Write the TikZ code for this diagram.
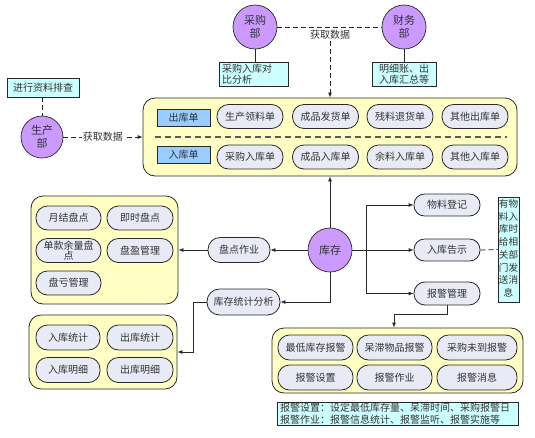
\documentclass[tikz,border=0pt]{standalone}
\usepackage{fontspec}
\setmainfont{Noto Sans CJK SC}
\usetikzlibrary{arrows.meta}
\definecolor{purp}{RGB}{204,153,255}
\definecolor{yel}{RGB}{255,255,196}
\definecolor{pillc}{RGB}{232,234,246}
\definecolor{cyanc}{RGB}{204,255,255}
\definecolor{bluec}{RGB}{153,204,255}
\definecolor{linec}{RGB}{40,40,40}
\begin{document}
\begin{tikzpicture}[x=1pt,y=-1pt,
  grp/.style={draw=linec, fill=yel, rounded corners=12pt, line width=0.8pt, inner sep=0pt},
  pill/.style={draw=linec, fill=pillc, rounded corners=11.5pt, minimum height=24pt, minimum width=66pt, inner sep=1pt, font=\fontsize{10}{11}\selectfont, text=black!80, line width=0.8pt, align=center},
  circ/.style={circle, draw=linec, fill=purp, minimum size=44pt, inner sep=0pt, align=center, font=\fontsize{11}{13}\selectfont, text=black!80, line width=0.7pt},
  note/.style={draw=linec, fill=cyanc, inner xsep=3pt, inner ysep=0pt, font=\fontsize{10}{11.5}\selectfont, text=black!80, line width=0.7pt},
  tag/.style={draw=linec, fill=bluec, minimum width=53pt, minimum height=17pt, inner sep=0pt, font=\fontsize{10}{11}\selectfont, text=black!80, line width=0.7pt},
  conn/.style={draw=linec, line width=0.8pt},
  arr/.style={conn, -{Latex[length=5pt,width=4pt]}},
  dconn/.style={conn, dash pattern=on 5pt off 3pt},
  lbl/.style={fill=white, inner sep=1pt, font=\fontsize{10}{11}\selectfont, text=black!80}
]
\useasboundingbox (0,0) rectangle (535,437);

% top departments
\node[circ] (cg) at (255,27) {采购\\部};
\node[circ] (cw) at (404,27) {财务\\部};
\node[note, text width=63pt, align=left, minimum height=24pt] (cgn) at (253.5,74) {采购入库对\\比分析};
\node[note, text width=58pt, align=center, minimum height=24pt] (cwn) at (404,74) {明细账、出\\入库汇总等};
\draw[conn] (cg.south) -- (cg.south |- cgn.north);
\draw[conn] (cw.south) -- (cw.south |- cwn.north);
\draw[dconn] (cg.east) -- (cw.west);
\node[lbl] (l1) at (330,35) {获取数据};

% production
\node[note, minimum width=72pt, minimum height=19pt, inner ysep=1pt] (scn) at (43,87.5) {进行资料排查};
\node[circ, minimum size=42pt] (sc) at (42,137) {生产\\部};
\draw[dconn] (scn.south -| sc.north) -- (sc.north);

% top group
\node[grp, minimum width=374pt, minimum height=78pt] (top) at (330,137) {};
\node[tag] (ck) at (183.5,117.5) {出库单};
\node[tag] (rkd) at (183.5,155) {入库单};
\node[pill] (p1) at (250,116.5) {生产领料单};
\node[pill] (p2) at (325.5,116.5) {成品发货单};
\node[pill] (p3) at (400,116.5) {残料退货单};
\node[pill] (p4) at (475,116.5) {其他出库单};
\node[pill] (q1) at (250,157) {采购入库单};
\node[pill] (q2) at (325.5,157) {成品入库单};
\node[pill] (q3) at (400,157) {余料入库单};
\node[pill] (q4) at (475,157) {其他入库单};
\coordinate (dl) at (155,137);
\coordinate (dr) at (507,137);
\draw[draw=black!65, line width=1.4pt, dash pattern=on 6pt off 4pt] (dl) -- (dr);

\draw[arr, dash pattern=on 5pt off 3pt] (l1.south) -- (top.north);
\draw[arr, dash pattern=on 5pt off 3pt] (sc.east) -- node[lbl] {获取数据} (top.west);

% center
\node[circ] (kc) at (330,250) {库存};
\draw[arr] (kc.north) -- (top.south);

% right side
\node[pill, minimum height=22pt, minimum width=66pt, rounded corners=10.5pt] (wl) at (447,205) {物料登记};
\node[pill, minimum height=22pt, minimum width=66pt, rounded corners=10.5pt] (rg) at (447,250) {入库告示};
\node[pill, minimum height=23pt, minimum width=66pt, rounded corners=11pt] (bj) at (447,293.5) {报警管理};
\node[note, minimum width=21pt, inner xsep=0pt, minimum height=105pt] (msg) at (508.5,249.5) {\fontsize{9.6}{12.7}\selectfont\begin{tabular}{@{}c@{}}有物\\料入\\库时\\给相\\关部\\门发\\送消\\息\end{tabular}};
\coordinate (br) at (366,250);
\draw[arr] (kc.east) -- (rg.west);
\draw[arr] (br) |- (wl.west);
\draw[arr] (br) |- (bj.west);
\draw[dconn] (rg.east) -- (msg.west);

% left: inventory check
\node[grp, minimum width=147pt, minimum height=108pt] (g1) at (104.5,250) {};
\node[pill, minimum width=65pt] (a1) at (68.5,218) {月结盘点};
\node[pill, minimum width=66pt] (a2) at (140,218) {即时盘点};
\node[pill, minimum width=65pt, font=\fontsize{10}{10.5}\selectfont] (a3) at (68.5,250.5) {单款余量盘\\点};
\node[pill, minimum width=66pt] (a4) at (140,250.5) {盘盈管理};
\node[pill, minimum width=65pt] (a5) at (68.5,283) {盘亏管理};
\node[pill, minimum width=62pt, minimum height=25pt, rounded corners=12pt] (pd) at (239,250) {盘点作业};
\draw[arr] (kc.west) -- (pd.east);
\draw[arr] (pd.west) -- (g1.east);

% left: statistics
\node[grp, minimum width=148pt, minimum height=74pt] (g2) at (103,352) {};
\node[pill, minimum width=64pt, minimum height=25pt] (b1) at (68,337.5) {入库统计};
\node[pill, minimum width=66pt, minimum height=25pt] (b2) at (140,337.5) {出库统计};
\node[pill, minimum width=64pt, minimum height=25pt] (b3) at (68,370) {入库明细};
\node[pill, minimum width=66pt, minimum height=25pt] (b4) at (140,370) {出库明细};
\node[pill, minimum width=73pt, minimum height=26pt, rounded corners=12.5pt] (tj) at (243.5,302) {库存统计分析};
\draw[arr] (kc.south) |- (tj.east);
\coordinate (c2) at (193,302);
\draw[arr] (tj.west) -- (c2) |- (g2.east);

% bottom right: alarms
\node[grp, minimum width=251pt, minimum height=65pt] (g3) at (397.5,360.5) {};
\node[pill, minimum width=75pt, minimum height=25pt] (d1) at (315.5,347.5) {最低库存报警};
\node[pill, minimum width=75pt, minimum height=25pt] (d2) at (394.5,347.5) {呆滞物品报警};
\node[pill, minimum width=80pt, minimum height=25pt] (d3) at (477,347.5) {采购未到报警};
\node[pill, minimum width=75pt, minimum height=25pt] (e1) at (315.5,377.5) {报警设置};
\node[pill, minimum width=75pt, minimum height=25pt] (e2) at (394.5,377.5) {报警作业};
\node[pill, minimum width=80pt, minimum height=25pt] (e3) at (477,377.5) {报警消息};
\coordinate (c3) at (394,314);
\draw[arr] (bj.south) |- (c3) -- (c3 |- g3.north);
\node[note, text width=235pt, align=left, minimum height=23pt] (bn) at (397.5,413.5) {报警设置：设定最低库存量、呆滞时间、采购报警日\\报警作业：报警信息统计、报警监听、报警实施等};
\end{tikzpicture}
\end{document}
